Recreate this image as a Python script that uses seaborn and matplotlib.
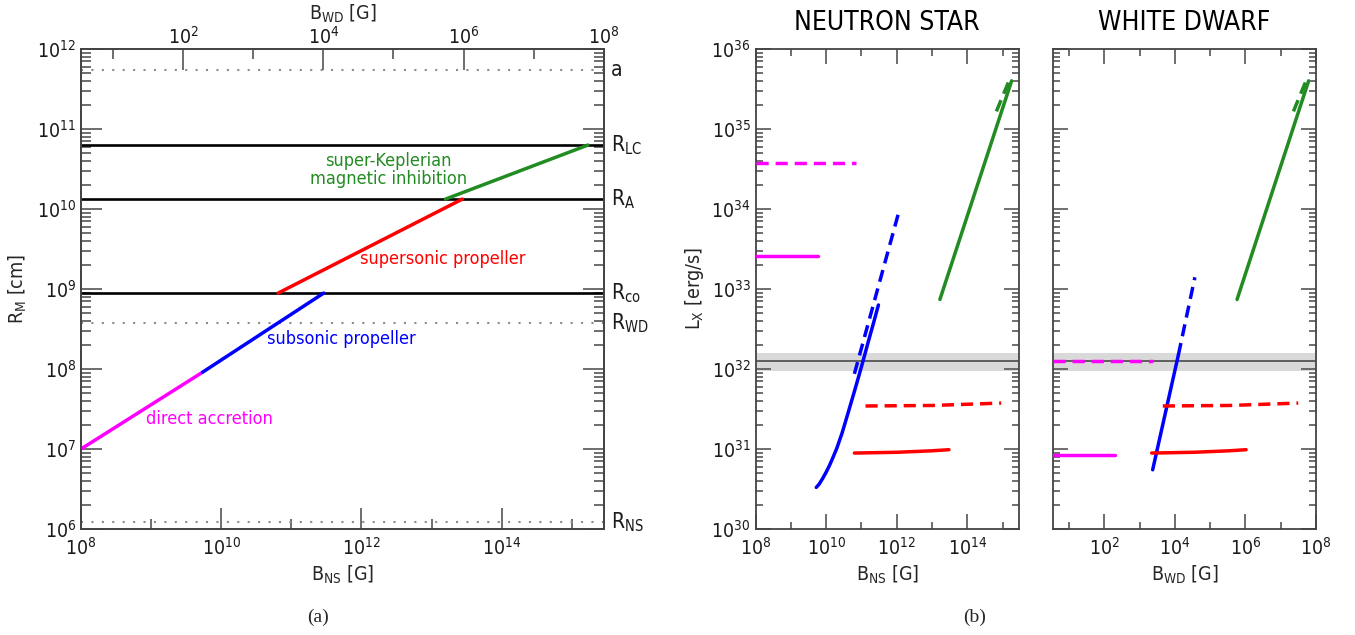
import numpy as np
import seaborn as sns
import matplotlib.pyplot as plt
from matplotlib.ticker import (FixedLocator, LogLocator, NullFormatter,
                               LogFormatterMathtext)

# --- panel (a): characteristic radii [cm] ---
RADIUS_NAMES = ["a", r"R$_{\mathrm{LC}}$", r"R$_{\mathrm{A}}$",
                r"R$_{\mathrm{co}}$", r"R$_{\mathrm{WD}}$", r"R$_{\mathrm{NS}}$"]
RADIUS_VALUES = [5.5e11, 6.3e10, 1.33e10, 8.9e8, 3.76e8, 1.23e6]
RADIUS_SOLID = [False, True, True, True, False, False]

R_NS = 1.23e6
R_WD = 3.76e8
K_WD = (R_NS / R_WD) ** 3          # B_WD = B_NS * (R_NS/R_WD)^3

B_LIM = [1e8, 2.88e15]

# magnetospheric radius vs B_NS, one segment per regime
REGIMES = ["direct accretion", "subsonic propeller", "supersonic propeller",
           "super-Keplerian\nmagnetic inhibition"]
REGIME_COLORS = ["#ff00ff", "#0000ff", "#ff0000", "#228b22"]
RM_B = [[1e8, 5.4e9], [5.4e9, 2.9e11], [6.5e10, 2.75e13], [1.58e13, 1.7e15]]
RM_R = [[1e7, 9.1e7], [9.1e7, 8.9e8], [8.9e8, 1.33e10], [1.33e10, 6.3e10]]
LABEL_POS = [(6.7e9, 2.4e7), (5.2e11, 2.4e8), (1.45e13, 2.4e9), (2.4e12, 3.1e10)]

# --- panel (b): X-ray luminosity [erg/s] ---
OBS_L = 1.26e32
OBS_BAND = [9.5e31, 1.6e32]

NS_ACC_B = [1e8, 5.7e9]
NS_ACC_L = [2.6e33, 2.6e33]
NS_ACC_DASH_B = [1e8, 7e10]
NS_ACC_DASH_L = [3.8e34, 3.8e34]
NS_SUB_B = [5.25e9, 6.31e9, 7.94e9, 1e10, 1.26e10, 1.58e10, 2.0e10, 2.82e10,
            3.98e10, 6.31e10, 1e11, 1.58e11, 2.24e11, 3.02e11]
NS_SUB_L = [3.31e30, 3.63e30, 4.27e30, 5.13e30, 6.31e30, 7.94e30, 1.02e31,
            1.58e31, 2.63e31, 5.25e31, 1.07e32, 2.24e32, 3.89e32, 6.31e32]
NS_SUB_DASH_B = [6.3e10, 1.15e12]
NS_SUB_DASH_L = [8.7e31, 9.3e33]

SUP_B = [6.3e10, 1e12, 1e13, 3e13]
SUP_L = [8.9e30, 9.1e30, 9.5e30, 9.8e30]
SUP_DASH_B = [1.3e11, 1e13, 9e14]
SUP_DASH_L = [3.45e31, 3.5e31, 3.75e31]
MAG_B = [1.66e13, 1.78e15]
MAG_L = [7.4e32, 4e35]
MAG_DASH_B = [6.6e14, 1.5e15, 1.78e15]
MAG_DASH_L = [1.66e35, 4e35, 4e35]

WD_ACC_B = [3.5, 2.0e2]
WD_ACC_L = [8.5e30, 8.5e30]
WD_ACC_DASH_B = [3.5, 2.45e3]
WD_ACC_DASH_L = [1.26e32, 1.26e32]
WD_SUB_B = [2.35e3, 1.26e4]
WD_SUB_L = [5.5e30, 1.5e32]
WD_SUB_DASH_B = [1.26e4, 3.7e4]
WD_SUB_DASH_L = [1.5e32, 1.4e33]

DASH = (0, (3.5, 2))
LW = 2.5
FS = 14

sns.set_style("ticks")
plt.rcParams["font.family"] = ["DejaVu Sans"]
plt.rcParams["font.stretch"] = "condensed"
plt.rcParams["mathtext.fontset"] = "custom"
plt.rcParams["mathtext.rm"] = "DejaVu Sans:stretch=condensed"
plt.rcParams["mathtext.it"] = "DejaVu Sans:stretch=condensed"
plt.rcParams["mathtext.default"] = "regular"
plt.rcParams["axes.edgecolor"] = "#444444"
plt.rcParams["axes.linewidth"] = 1.3
plt.rcParams["xtick.color"] = "#555555"
plt.rcParams["ytick.color"] = "#555555"
plt.rcParams["xtick.labelcolor"] = "#1a1a1a"
plt.rcParams["ytick.labelcolor"] = "#1a1a1a"


def log_axes(ax, xmajor, xminor, ymajor, top=True):
    ax.set_xscale("log")
    ax.set_yscale("log")
    ax.xaxis.set_major_locator(FixedLocator(xmajor))
    ax.xaxis.set_minor_locator(FixedLocator(xminor))
    ax.xaxis.set_major_formatter(LogFormatterMathtext())
    ax.xaxis.set_minor_formatter(NullFormatter())
    ax.yaxis.set_major_locator(FixedLocator(ymajor))
    ax.yaxis.set_minor_locator(LogLocator(base=10, subs=np.arange(2, 10), numticks=100))
    ax.yaxis.set_major_formatter(LogFormatterMathtext())
    ax.yaxis.set_minor_formatter(NullFormatter())
    ax.set_ylim(ymajor[0], ymajor[-1])
    ax.tick_params(which="both", direction="in", top=top, right=True, labelsize=FS)
    ax.tick_params(axis="x", pad=6)


def line(ax, x, y, color, dashed=False):
    sns.lineplot(x=x, y=y, ax=ax, color=color, lw=LW, sort=False,
                 linestyle=DASH if dashed else "-", zorder=3)


fig = plt.figure(figsize=(13.55, 6.35), dpi=100)
ax_r = fig.add_axes([81 / 1355, 106 / 635, 523 / 1355, 480 / 635])
ax_ns = fig.add_axes([755.5 / 1355, 106 / 635, 263.5 / 1355, 480 / 635])
ax_wd = fig.add_axes([1053 / 1355, 106 / 635, 263 / 1355, 480 / 635])

# ---------------- panel (a) ----------------
ns_major = [1e8, 1e10, 1e12, 1e14]
ns_minor = [1e9, 1e11, 1e13, 1e15]
wd_major = [1e2, 1e4, 1e6, 1e8]
wd_minor = [1e1, 1e3, 1e5, 1e7]
rm_major = [1e6, 1e7, 1e8, 1e9, 1e10, 1e11, 1e12]
lx_major = [1e30, 1e31, 1e32, 1e33, 1e34, 1e35, 1e36]

log_axes(ax_r, ns_major, ns_minor, rm_major, top=False)
ax_r.tick_params(which="major", length=15, width=1.2)
ax_r.tick_params(which="minor", length=7.5, width=1.2)

for name, val, solid in zip(RADIUS_NAMES, RADIUS_VALUES, RADIUS_SOLID):
    if solid:
        ax_r.axhline(val, color="black", lw=1.9, zorder=2)
    else:
        ax_r.axhline(val, color="#8c8c8c", lw=1.5, ls=(0, (1, 4)), zorder=1)
    ax_r.text(1.013, val, name, transform=ax_r.get_yaxis_transform(),
              ha="left", va="center", fontsize=15, color="#1a1a1a")

for b, r, c in zip(RM_B, RM_R, REGIME_COLORS):
    line(ax_r, b, r, c)
for name, (px, py), c in zip(REGIMES, LABEL_POS, REGIME_COLORS):
    ax_r.text(px, py, name, color=c, fontsize=13, ha="center", va="center",
              linespacing=1.0)

ax_r.set_xlim(*B_LIM)
ax_r.set_xlabel(r"B$_{NS}$ [G]", fontsize=FS, labelpad=3)
ax_r.set_ylabel(r"R$_M$ [cm]", fontsize=FS, labelpad=6)

top = ax_r.twiny()
top.set_xscale("log")
top.set_xlim(B_LIM[0] * K_WD, B_LIM[1] * K_WD)
top.xaxis.set_major_locator(FixedLocator(wd_major))
top.xaxis.set_minor_locator(FixedLocator(wd_minor))
top.xaxis.set_major_formatter(LogFormatterMathtext())
top.xaxis.set_minor_formatter(NullFormatter())
top.tick_params(which="both", direction="in", labelsize=FS, width=1.2, pad=1)
top.tick_params(which="major", length=15)
top.tick_params(which="minor", length=7.5)
top.set_xlabel(r"B$_{WD}$ [G]", fontsize=FS, labelpad=4)

# ---------------- panel (b) ----------------
for ax in (ax_ns, ax_wd):
    log_axes(ax, ns_major if ax is ax_ns else wd_major,
             ns_minor if ax is ax_ns else wd_minor, lx_major)
    ax.tick_params(which="major", length=11, width=1.2)
    ax.tick_params(which="minor", length=5, width=1.2)
    ax.axhspan(*OBS_BAND, color="#d9d9d9", lw=0, zorder=0)
    ax.axhline(OBS_L, color="#555555", lw=1.3, zorder=1)

# neutron star
line(ax_ns, NS_ACC_B, NS_ACC_L, REGIME_COLORS[0])
line(ax_ns, NS_ACC_DASH_B, NS_ACC_DASH_L, REGIME_COLORS[0], dashed=True)
line(ax_ns, NS_SUB_B, NS_SUB_L, REGIME_COLORS[1])
line(ax_ns, NS_SUB_DASH_B, NS_SUB_DASH_L, REGIME_COLORS[1], dashed=True)
line(ax_ns, SUP_B, SUP_L, REGIME_COLORS[2])
line(ax_ns, SUP_DASH_B, SUP_DASH_L, REGIME_COLORS[2], dashed=True)
line(ax_ns, MAG_B, MAG_L, REGIME_COLORS[3])
line(ax_ns, MAG_DASH_B, MAG_DASH_L, REGIME_COLORS[3], dashed=True)
ax_ns.set_xlim(*B_LIM)
ax_ns.set_title("NEUTRON STAR", fontsize=19, pad=14, color="black")
ax_ns.set_xlabel(r"B$_{NS}$ [G]", fontsize=FS, labelpad=3)
ax_ns.set_ylabel(r"L$_X$ [erg/s]", fontsize=FS, labelpad=4)

# white dwarf (same supersonic / magnetic inhibition curves, rescaled B)
line(ax_wd, WD_ACC_B, WD_ACC_L, REGIME_COLORS[0])
line(ax_wd, WD_ACC_DASH_B, WD_ACC_DASH_L, REGIME_COLORS[0], dashed=True)
line(ax_wd, WD_SUB_B, WD_SUB_L, REGIME_COLORS[1])
line(ax_wd, WD_SUB_DASH_B, WD_SUB_DASH_L, REGIME_COLORS[1], dashed=True)
line(ax_wd, np.array(SUP_B) * K_WD, SUP_L, REGIME_COLORS[2])
line(ax_wd, np.array(SUP_DASH_B) * K_WD, SUP_DASH_L, REGIME_COLORS[2], dashed=True)
line(ax_wd, np.array(MAG_B) * K_WD, MAG_L, REGIME_COLORS[3])
line(ax_wd, np.array(MAG_DASH_B) * K_WD, MAG_DASH_L, REGIME_COLORS[3], dashed=True)
ax_wd.set_xlim(B_LIM[0] * K_WD, B_LIM[1] * K_WD)
ax_wd.tick_params(labelleft=False)
ax_wd.set_title("WHITE DWARF", fontsize=19, pad=14, color="black")
ax_wd.set_xlabel(r"B$_{WD}$ [G]", fontsize=FS, labelpad=3)
ax_wd.set_ylabel("")

fig.text(318 / 1355, 1 - 617 / 635, "(a)", ha="center", va="center",
         fontsize=14, family="Liberation Serif", stretch="normal")
fig.text(975 / 1355, 1 - 617 / 635, "(b)", ha="center", va="center",
         fontsize=14, family="Liberation Serif", stretch="normal")

fig.savefig("out.png", dpi=100)
